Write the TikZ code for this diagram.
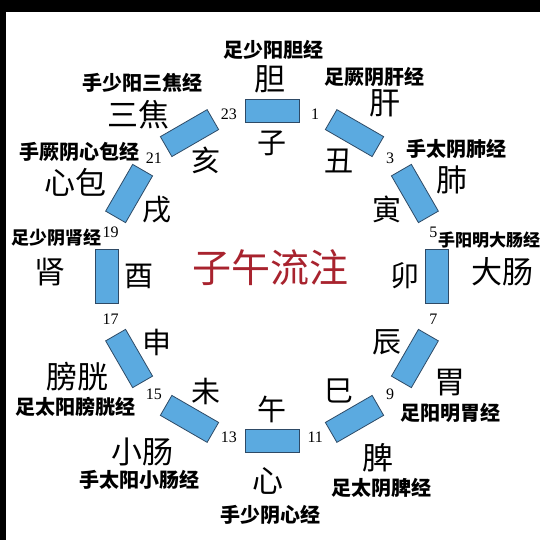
\documentclass[tikz,border=0pt]{standalone}
\usepackage{fontspec}
\setmainfont{Noto Sans CJK SC}
\newfontfamily\numfont{Liberation Serif}
\definecolor{BarBlue}{HTML}{5BAAE0}
\definecolor{BarEdge}{HTML}{2E4A66}
\definecolor{TitleRed}{HTML}{A8232E}
\begin{document}
\begin{tikzpicture}[x=1pt, y=-1pt,
    bar/.style={draw=BarEdge, fill=BarBlue, line width=0.8pt,
      minimum width=54pt, minimum height=23pt, inner sep=0pt},
    branch/.style={font=\fontsize{29}{29}\selectfont, inner sep=0pt},
    hour/.style={font=\numfont\fontsize{16}{16}\selectfont, inner sep=0pt},
    organ/.style={font=\fontsize{31}{31}\selectfont, inner sep=0pt},
    merid/.style={font=\bfseries\fontsize{20}{20}\selectfont, inner sep=0pt}]
    \useasboundingbox (0,0) rectangle (540,540);
    \fill[white] (0,0) rectangle (540,540);
    \fill[black] (0,0) rectangle (540,12);
    \fill[black] (0,0) rectangle (6,540);
    % twelve double hours round the clock
    \foreach \br [count=\i from 0] in {子,丑,寅,卯,辰,巳,午,未,申,酉,戌,亥} {
        \pgfmathsetmacro{\a}{30*\i}
        \pgfmathsetmacro{\b}{30*\i+15}
        \pgfmathtruncatemacro{\h}{2*\i+1}
        \node[bar, rotate=-\a] (r\i) at ({272+165*sin(\a)},{276-165*cos(\a)}) {};
        \node[branch] (b\i) at ({272+133*sin(\a)},{276-133*cos(\a)}) {\br};
        \node[hour] (h\i) at ({272+167*sin(\b)},{276-167*cos(\b)}) {\h};
    }
    % organs and meridians
    \foreach \o/\ox/\oy/\m/\mx/\my [count=\i from 0] in {
        胆/270/79/足少阳胆经/273/50,
        肝/385/103/足厥阴肝经/374/77,
        肺/452/180/手太阴肺经/456/149,
        大肠/502/272//0/0,
        胃/450/383/足阳明胃经/450/413,
        脾/378/458/足太阴脾经/381/488,
        心/268/481/手少阴心经/270/515,
        小肠/142/452/手太阳小肠经/139/480,
        膀胱/77/377/足太阳膀胱经/75/407,
        肾/50/272//0/0,
        心包/75/182/手厥阴心包经/79/152,
        三焦/138/115/手少阳三焦经/142/83} {
        \node[organ] (o\i) at (\ox,\oy) {\o};
        \node[merid] (m\i) at (\mx,\my) {\m};
    }
    \node[merid, anchor=west, font=\bfseries\fontsize{17}{17}\selectfont] (m3x) at (438,240) {手阳明大肠经};
    \node[merid, font=\bfseries\fontsize{18}{18}\selectfont] (m9x) at (56,238) {足少阴肾经};
    \node[font=\fontsize{39}{39}\selectfont, text=TitleRed, inner sep=0pt] (title) at (270,268) {子午流注};
\end{tikzpicture}
\end{document}
